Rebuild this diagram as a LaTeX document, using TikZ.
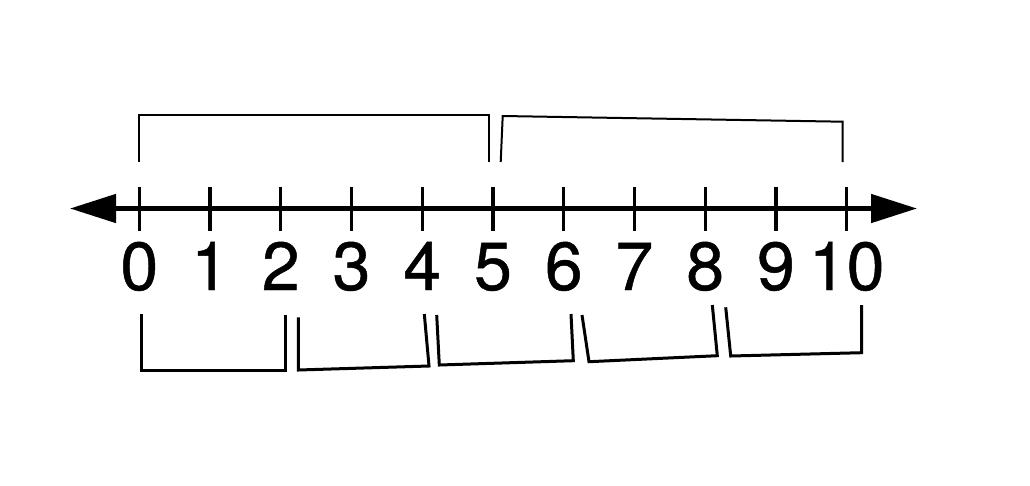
\documentclass[tikz,border=0pt]{standalone}
\usepackage{fontspec}
\setmainfont{TeX Gyre Heros}
\newfontfamily\numfont[FakeBold=0.7]{TeX Gyre Heros}
\usetikzlibrary{arrows.meta,calc}
\begin{document}
\begin{tikzpicture}[x=1pt,y=-1pt,
  axis/.style={line width=4.8pt,{Triangle[length=46pt,width=28pt]}-{Triangle[length=46pt,width=28pt]}},
  tickmark/.style={line width=3.2pt},
  topbracket/.style={line width=2pt,line join=miter},
  botbracket/.style={line width=3pt,line join=miter},
  numlabel/.style={anchor=base,inner sep=0pt,font=\numfont\fontsize{68}{68}\selectfont}]
\useasboundingbox[fill=white] (0,0) rectangle (1030,485);
% axis
\coordinate (lt) at (70,208.5);
\coordinate (rt) at (917,208.5);
\draw[axis] (lt) -- (rt);
% ticks and labels
\foreach \i in {0,...,10}{
  \coordinate (t\i) at ({139.3+70.74*\i},208.5);
  \draw[tickmark] ($(t\i)+(0,-21.5)$) -- ($(t\i)+(0,22.5)$);
  \node[numlabel] (n\i) at ($(t\i)+(0,81.5)$) {\i};
}
% top brackets
\draw[topbracket] (139.3,161.7) -- (139.3,115) -- (489,115) -- (489,161.7);
\draw[topbracket] (500.7,162) -- (502.7,116) -- (842.7,121.7) -- (842.7,162);
% bottom brackets
\draw[botbracket] (141,314) -- (141,370.7) -- (285.7,370.7) -- (285.7,315);
\draw[botbracket] (298.3,317.3) -- (298.3,370) -- (429,366) -- (424.3,314);
\draw[botbracket] (436.7,315) -- (439.3,365) -- (573.3,360.7) -- (571,314);
\draw[botbracket] (582,315) -- (589,361.7) -- (717.3,355.7) -- (712.3,305);
\draw[botbracket] (725.7,307.3) -- (730.7,356) -- (861.7,352.7) -- (861.7,305);
\end{tikzpicture}
\end{document}
